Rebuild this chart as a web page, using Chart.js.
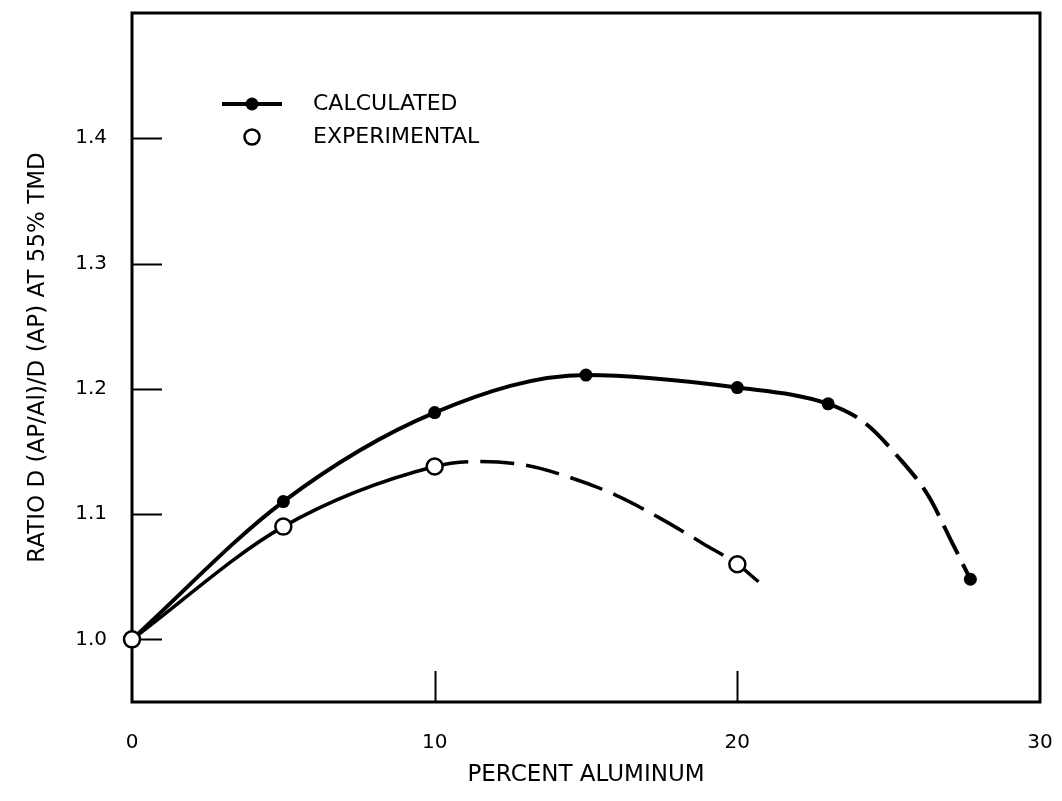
<!DOCTYPE html>
<html>
<head>
<meta charset="utf-8">
<script src="https://cdn.jsdelivr.net/npm/chart.js@4.4.1/dist/chart.umd.min.js"></script>
<style>
  html, body { margin: 0; padding: 0; background: #fff; }
  #wrap { width: 1062px; height: 801px; position: relative; }
</style>
</head>
<body>
<div id="wrap"><canvas id="c"></canvas></div>
<script>
// Axis tick values
const xTickValues = [0, 10, 20, 30];
const yTickValues = [1.0, 1.1, 1.2, 1.3, 1.4];

// Calculated detonation-velocity ratio (filled markers)
const calcPct   = [0, 5, 10, 15, 20, 23, 27.7];
const calcRatio = [1.0, 1.11, 1.181, 1.211, 1.201, 1.188, 1.048];
// Points along the faired dashed tail of the calculated curve
const calcTailPct   = [24.2, 25.3, 26.3, 27.1];
const calcTailRatio = [1.173, 1.146, 1.115, 1.077];
const calcDashFrom = 23;

// Experimental ratio (open markers)
const expPct   = [0, 5, 10, 20];
const expRatio = [1.0, 1.09, 1.138, 1.06];
// Points along the faired dashed part of the experimental curve
const expCurvePct   = [11.4, 13, 14.5, 16, 17.5, 18.9, 20.7];
const expCurveRatio = [1.142, 1.139, 1.129, 1.115, 1.096, 1.076, 1.046];
const expDashFrom = 10;

const FONT = "'DejaVu Sans', sans-serif";
const INK = '#000';

function toPoints(xs, ys) { return xs.map((x, i) => ({ x: x, y: ys[i] })); }
function curve(xs1, ys1, xs2, ys2) {
  return toPoints(xs1.concat(xs2), ys1.concat(ys2)).sort((a, b) => a.x - b.x);
}

// Frame, inward tick marks and the key
const decor = {
  id: 'decor',
  beforeDatasetsDraw(chart) {
    const { ctx, chartArea: a, scales: { x, y } } = chart;
    ctx.save();
    ctx.strokeStyle = INK;
    ctx.lineWidth = 3;
    ctx.strokeRect(a.left, a.top, a.right - a.left, a.bottom - a.top);
    ctx.lineWidth = 2;
    ctx.beginPath();
    yTickValues.forEach(v => {
      const py = Math.round(y.getPixelForValue(v)) + 0.5;
      ctx.moveTo(a.left, py); ctx.lineTo(a.left + 30, py);
    });
    xTickValues.filter(v => v > x.min && v < x.max).forEach(v => {
      const px = Math.round(x.getPixelForValue(v)) + 0.5;
      ctx.moveTo(px, a.bottom); ctx.lineTo(px, a.bottom - 31);
    });
    ctx.stroke();

    // key
    const kx = a.left + 120, ky1 = a.top + 91, ky2 = a.top + 124;
    ctx.lineWidth = 4;
    ctx.beginPath();
    ctx.moveTo(kx - 30, ky1); ctx.lineTo(kx + 30, ky1);
    ctx.stroke();
    ctx.fillStyle = INK;
    ctx.beginPath(); ctx.arc(kx, ky1, 6.5, 0, Math.PI * 2); ctx.fill();
    ctx.lineWidth = 2.5;
    ctx.fillStyle = '#fff';
    ctx.beginPath(); ctx.arc(kx, ky2, 7.5, 0, Math.PI * 2); ctx.fill(); ctx.stroke();
    ctx.fillStyle = INK;
    ctx.font = '22px ' + FONT;
    ctx.textAlign = 'left';
    ctx.textBaseline = 'middle';
    ctx.fillText('CALCULATED', kx + 61, ky1);
    ctx.fillText('EXPERIMENTAL', kx + 61, ky2);
    ctx.restore();
  }
};

const dashAfter = (limit, pattern) => ctx => (ctx.p0.parsed.x >= limit ? pattern : undefined);
const noPad = s => { s.paddingTop = 0; s.paddingBottom = 0; s.paddingLeft = 0; s.paddingRight = 0; };

new Chart(document.getElementById('c'), {
  type: 'scatter',
  data: {
    datasets: [
      {
        label: 'EXPERIMENTAL',
        data: toPoints(expPct, expRatio),
        pointRadius: 8, pointHoverRadius: 8,
        pointBackgroundColor: '#fff', pointBorderColor: INK, pointBorderWidth: 2.5,
        showLine: false, clip: false, order: 0
      },
      {
        label: 'CALCULATED',
        data: toPoints(calcPct, calcRatio),
        pointRadius: 6.5, pointHoverRadius: 6.5,
        pointBackgroundColor: INK, pointBorderColor: INK, pointBorderWidth: 0,
        showLine: false, clip: false, order: 1
      },
      {
        label: 'calculated curve',
        data: curve(calcPct, calcRatio, calcTailPct, calcTailRatio),
        showLine: true, pointRadius: 0, pointHoverRadius: 0,
        borderColor: INK, borderWidth: 4, cubicInterpolationMode: 'monotone',
        segment: { borderDash: dashAfter(calcDashFrom, [32, 11]) },
        clip: false, order: 2
      },
      {
        label: 'experimental curve',
        data: curve(expPct, expRatio, expCurvePct, expCurveRatio),
        showLine: true, pointRadius: 0, pointHoverRadius: 0,
        borderColor: INK, borderWidth: 3.5, cubicInterpolationMode: 'monotone',
        segment: { borderDash: dashAfter(expDashFrom, [34, 12]) },
        clip: false, order: 2
      }
    ]
  },
  options: {
    responsive: true,
    maintainAspectRatio: false,
    animation: false,
    events: [],
    layout: { padding: { left: 20, right: 22, top: 13, bottom: 8 } },
    plugins: { legend: { display: false }, tooltip: { enabled: false } },
    scales: {
      x: {
        type: 'linear', min: 0, max: 30,
        afterBuildTicks: s => { s.ticks = xTickValues.map(v => ({ value: v })); },
        afterFit: s => { s.height = 91; noPad(s); },
        grid: { display: false, drawTicks: false },
        border: { display: false },
        ticks: { color: INK, font: { family: FONT, size: 20 }, padding: 29, maxRotation: 0 },
        title: { display: true, text: 'PERCENT ALUMINUM', color: INK, font: { family: FONT, size: 23 }, padding: { top: 4, bottom: 4 } }
      },
      y: {
        type: 'linear', min: 0.95, max: 1.5,
        afterBuildTicks: s => { s.ticks = yTickValues.map(v => ({ value: v })); },
        afterFit: s => { s.width = 112; noPad(s); },
        grid: { display: false, drawTicks: false },
        border: { display: false },
        ticks: { color: INK, font: { family: FONT, size: 20 }, padding: 25, callback: v => Number(v).toFixed(1) },
        title: { display: true, text: 'RATIO D (AP/Al)/D (AP) AT 55% TMD', color: INK, font: { family: FONT, size: 23 }, padding: { top: 4, bottom: 4 } }
      }
    }
  },
  plugins: [decor]
});
</script>
</body>
</html>
